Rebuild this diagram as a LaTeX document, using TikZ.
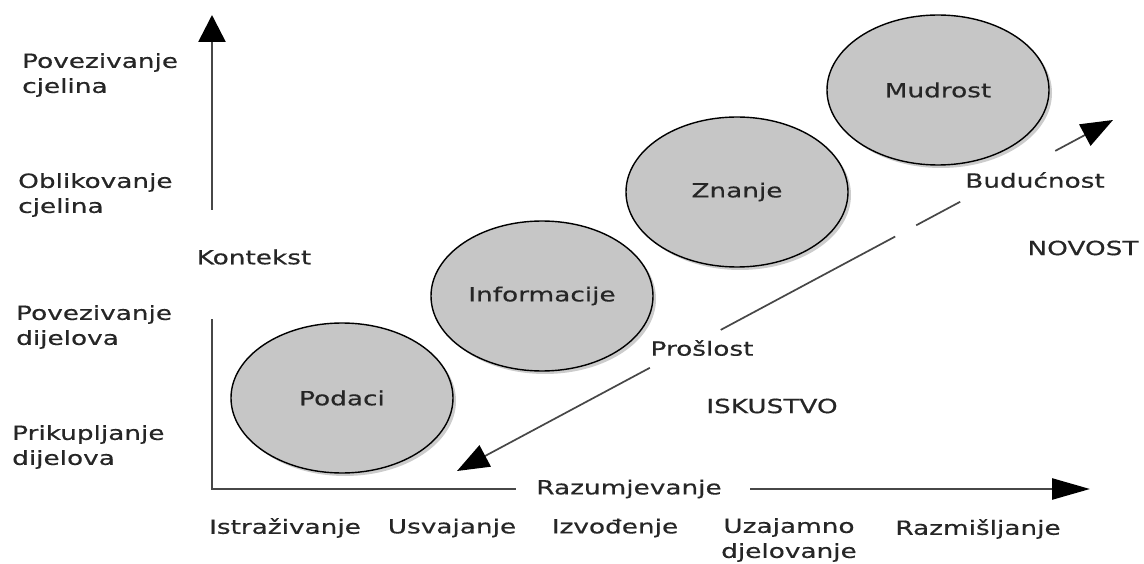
\documentclass[tikz,border=0pt]{standalone}
\usepackage{fontspec}
\setmainfont{DejaVu Sans}[FakeStretch=1.35,FakeBold=0.5]
\usetikzlibrary{arrows.meta,shapes.geometric,shadows,calc}
\begin{document}
\begin{tikzpicture}[x=1pt,y=-1pt,
  txt/.style={font=\fontsize{19.5}{25}\selectfont, text=black!85},
  lbl/.style={txt, align=left, anchor=west, inner sep=0pt},
  ctr/.style={txt, align=center, inner sep=0pt},
  blob/.style={ellipse, draw=black, line width=1.4pt, fill=gray!45,
    minimum width=222pt, minimum height=150pt, inner sep=0pt, txt,
    drop shadow={shadow xshift=3pt, shadow yshift=-3pt, opacity=0.4}},
  axisline/.style={draw=black!72, line width=2.6pt},
  diag/.style={draw=black!72, line width=1.7pt},
]
\useasboundingbox (0,0) rectangle (1144,564);

% axes
\coordinate (O) at (212,489);
\coordinate (vtop) at (212,15);
\coordinate (vg1) at (212,210);
\coordinate (vg2) at (212,320);
\coordinate (hg1) at (515,489);
\coordinate (hg2) at (750,489);
\coordinate (htip) at (1090,489);
\draw[axisline, -{Triangle[length=27pt,width=27pt,color=black]}] (vg1) -- (vtop);
\draw[axisline, line cap=rect] (vg2) -- (O) -- (hg1);
\draw[axisline, -{Triangle[length=38pt,width=21pt,color=black]}] (hg2) -- (htip);

% axis labels
\node[ctr] (kontekst) at (254,257) {Kontekst};
\node[ctr] (razum) at (629,489) {Razumjevanje};

\node[lbl] (l1) at (22,75) {Povezivanje\\cjelina};
\node[lbl] (l2) at (18,195) {Oblikovanje\\cjelina};
\node[lbl] (l3) at (16,327) {Povezivanje\\dijelova};
\node[lbl] (l4) at (12,447) {Prikupljanje\\dijelova};

\node[ctr] (b1) at (285,528) {Istraživanje};
\node[ctr] (b2) at (452,528) {Usvajanje};
\node[ctr] (b3) at (615,528) {Izvođenje};
\node[ctr] (b4) at (789,540) {Uzajamno\\djelovanje};
\node[ctr] (b5) at (978,529) {Razmišljanje};

% ellipses
\node[blob] (podaci) at (342,398) {Podaci};
\node[blob] (info) at (542,296) {Informacije};
\node[blob] (znanje) at (737,192) {Znanje};
\node[blob] (mudrost) at (938,90) {Mudrost};

% time arrow
\coordinate (past) at (457,471);
\coordinate (future) at (1113,120);
\draw[diag, {Triangle[length=32pt,width=24pt,color=black]}-] (past) -- ($(past)!0.294!(future)$);
\draw[diag] ($(past)!0.402!(future)$) -- ($(past)!0.668!(future)$);
\draw[diag] ($(past)!0.700!(future)$) -- ($(past)!0.767!(future)$);
\draw[diag, -{Triangle[length=32pt,width=24pt,color=black]}] ($(past)!0.912!(future)$) -- (future);

\node[ctr] (proslost) at (702,348) {Prošlost};
\node[ctr] (buducnost) at (1035,180) {Budućnost};
\node[ctr] (novost) at (1083,248) {NOVOST};
\node[ctr] (iskustvo) at (772,406) {ISKUSTVO};
\end{tikzpicture}
\end{document}
